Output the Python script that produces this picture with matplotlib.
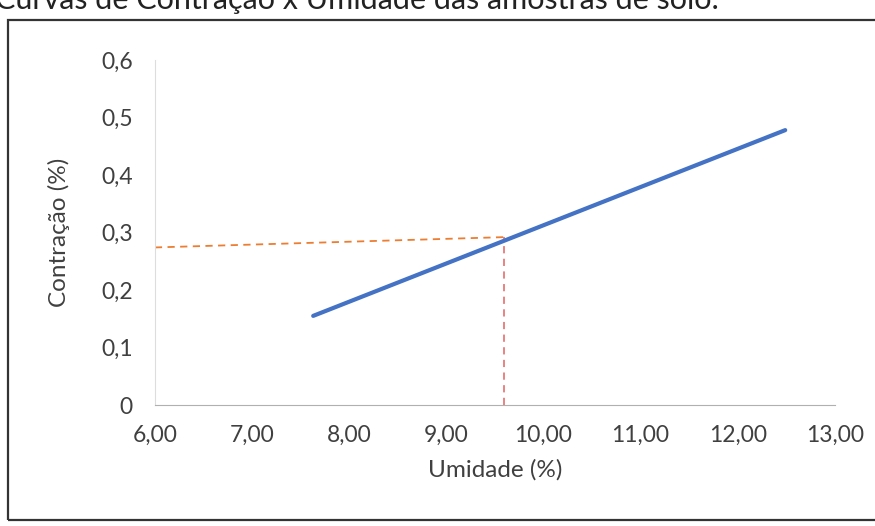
import matplotlib.pyplot as plt
from matplotlib.patches import Rectangle
from matplotlib.ticker import FuncFormatter

plt.rcParams['font.family'] = ['Lato', 'DejaVu Sans']

# data
umidade = [7.63, 12.49]
contracao = [0.155, 0.478]
guia_h_x = [6.0, 9.61]
guia_h_y = [0.274, 0.292]
guia_v_x = [9.59, 9.59]
guia_v_y = [0.0, 0.292]
x_ticks = [6, 7, 8, 9, 10, 11, 12, 13]
y_ticks = [0, 0.1, 0.2, 0.3, 0.4, 0.5, 0.6]

fig = plt.figure(figsize=(8.75, 5.26), dpi=100)
ax = fig.add_axes([0.177, 0.230, 0.777, 0.656])

ax.plot(umidade, contracao, color='#4472C4', lw=3, solid_capstyle='round', zorder=3)
ax.plot(guia_h_x, guia_h_y, color='#ED7D31', lw=1.3, ls=(0, (4, 3)), zorder=2)
ax.plot(guia_v_x, guia_v_y, color='#E8787A', lw=1.3, ls=(0, (4, 3)), zorder=2)

ax.set_xlim(6, 13)
ax.set_ylim(0, 0.6)
ax.set_xticks(x_ticks)
ax.set_yticks(y_ticks)
ax.xaxis.set_major_formatter(FuncFormatter(lambda v, p: f"{v:.2f}".replace('.', ',')))
ax.yaxis.set_major_formatter(FuncFormatter(lambda v, p: ('0' if v == 0 else f"{v:.1f}".replace('.', ','))))
ax.tick_params(length=0, labelsize=16.5, colors='#404040')
ax.tick_params(axis='y', pad=16)
ax.tick_params(axis='x', pad=14)

for s in ['top', 'right']:
    ax.spines[s].set_visible(False)
ax.spines['left'].set_color('#DDDDDD')
ax.spines['bottom'].set_color('#B0B0B0')

ax.set_xlabel('Umidade (%)', fontsize=17.5, color='#404040', labelpad=10)
ax.set_ylabel('Contração (%)', fontsize=17.5, color='#404040', labelpad=22)

# frame around the chart, as in the scan
fig.patches.append(Rectangle((0.009, 0.011), 1.2, 0.951, transform=fig.transFigure,
                             fill=False, lw=1.6, edgecolor='#333333'))
fig.text(-0.006, 1.0, 'Curvas de Contração x Umidade das amostras de solo.',
         fontsize=22, color='#222222', va='center', ha='left')

fig.savefig('out.png', dpi=100)
